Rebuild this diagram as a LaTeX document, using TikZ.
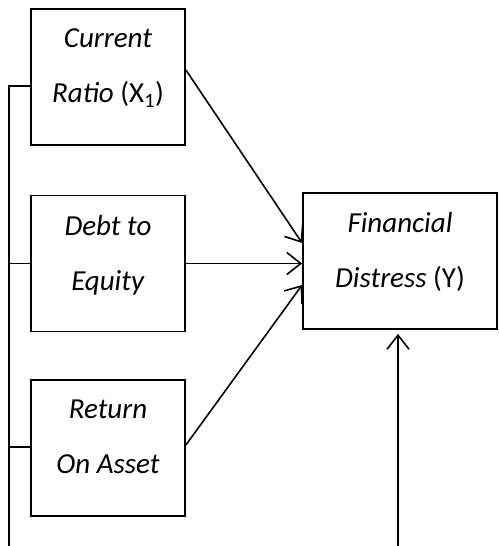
\documentclass[tikz,border=0pt]{standalone}
\usepackage{fontspec}
\setmainfont{Carlito}
\usepackage{tikz}
\usetikzlibrary{arrows.meta, positioning, calc}

\begin{document}
\begin{tikzpicture}[
  x=1pt, y=-1pt,
  font=\fontsize{29}{55}\selectfont,
  box/.style={
    draw=black,
    line width=1.8pt,
    align=center,
    inner sep=0pt,
    minimum width=154pt,
    minimum height=136pt,
    text depth=22pt
  },
  link/.style={line width=1.6pt},
  arrow/.style={link, -{Straight Barb[length=14pt, width=22pt, line width=1.6pt]}}
]
\useasboundingbox (0,0) rectangle (498,546);

\node[box] (cr) at (108,77) {\textit{Current}\\\textit{Ratio} (X\textsubscript{1})};
\node[box] (der) at (108,263.5) {\textit{Debt to}\\\textit{Equity}};
\node[box] (roa) at (108,448) {\textit{Return}\\\textit{On Asset}};

\node[box, minimum width=194pt] (fd) at (400,261) {\textit{Financial}\\\textit{Distress} (Y)};

\coordinate (spine top) at (9,86);
\coordinate (spine bot) at (9,546);
\coordinate (ctrl) at (398,546);

% moderating line on the left
\draw[link] (spine bot) -- (spine top) -- (spine top -| cr.west);
\draw[link] (spine top |- der.west) -- (der.west);
\draw[link] ($(spine top |- roa.west)+(0,-1)$) -- ($(roa.west)+(0,-1)$);

% paths to Y
\draw[arrow] ($(cr.east)+(0,-7)$) -- ($(fd.west)+(0,-18)$);
\draw[arrow] (der.east) -- (fd.west |- der.east);
\draw[arrow] ($(roa.east)+(0,-3)$) -- ($(fd.west)+(0,24)$);
\draw[arrow] (ctrl) -- ($(ctrl |- fd.south)+(0,4)$);

\end{tikzpicture}
\end{document}
